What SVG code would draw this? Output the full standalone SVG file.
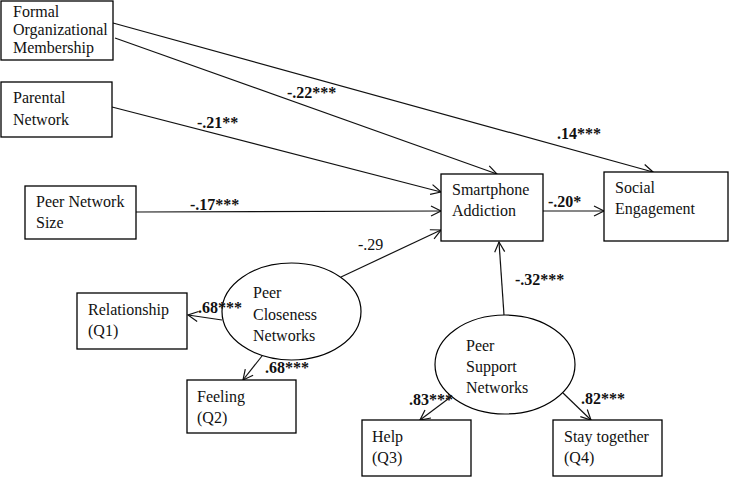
<svg xmlns="http://www.w3.org/2000/svg" width="730" height="478" viewBox="0 0 730 478">
<style>
  .box { fill: #fff; stroke: #000; stroke-width: 1.3; }
  .ell { fill: #fff; stroke: #000; stroke-width: 1.2; }
  .t { font-family: "Liberation Serif", "Times New Roman", serif; font-size: 16px; fill: #111; }
  .lb { font-family: "Liberation Serif", "Times New Roman", serif; font-size: 16px; font-weight: bold; fill: #111; }
  .ln { font-family: "Liberation Serif", "Times New Roman", serif; font-size: 16px; fill: #111; }
  .c { fill: none; stroke: #111; stroke-width: 1.2; marker-end: url(#arr); }
</style>
<defs>
  <marker id="arr" markerUnits="userSpaceOnUse" markerWidth="14" markerHeight="14" refX="11" refY="6" orient="auto">
    <path d="M1,1 L11,6 L1,11" fill="none" stroke="#111" stroke-width="1.2"/>
  </marker>
</defs>
<rect width="730" height="478" fill="#fff"/>

<g id="connectors">
  <line class="c" x1="113" y1="23" x2="653" y2="172"/>
  <line class="c" x1="115" y1="38" x2="497" y2="174"/>
  <line class="c" x1="112" y1="107" x2="441" y2="192"/>
  <line class="c" x1="136" y1="212" x2="441" y2="211"/>
  <line class="c" x1="341" y1="277" x2="441" y2="230"/>
  <line class="c" x1="543" y1="211" x2="604" y2="211"/>
  <line class="c" x1="504" y1="315" x2="499" y2="242"/>
  <line class="c" x1="222" y1="320" x2="188" y2="315"/>
  <line class="c" x1="262" y1="356" x2="243" y2="380"/>
  <line class="c" x1="452" y1="396" x2="420" y2="420"/>
  <line class="c" x1="563" y1="393" x2="591" y2="420"/>
</g>

<g id="formal">
  <rect class="box" x="1" y="1" width="112" height="59"/>
  <text class="t" x="13" y="17">Formal</text>
  <text class="t" x="13" y="35">Organizational</text>
  <text class="t" x="13" y="53">Membership</text>
</g>
<g id="parental">
  <rect class="box" x="1" y="82" width="111" height="55"/>
  <text class="t" x="13" y="103">Parental</text>
  <text class="t" x="13" y="125">Network</text>
</g>
<g id="peersize">
  <rect class="box" x="25" y="186" width="111" height="53"/>
  <text class="t" x="36" y="207">Peer Network</text>
  <text class="t" x="36" y="228">Size</text>
</g>
<g id="smartphone">
  <rect class="box" x="441" y="174" width="102" height="67"/>
  <text class="t" x="452" y="195">Smartphone</text>
  <text class="t" x="452" y="216">Addiction</text>
</g>
<g id="social">
  <rect class="box" x="604" y="172" width="124" height="69"/>
  <text class="t" x="615" y="193">Social</text>
  <text class="t" x="615" y="214">Engagement</text>
</g>
<g id="closeness">
  <ellipse class="ell" cx="291.5" cy="311.5" rx="69.5" ry="48.5"/>
  <text class="t" x="253" y="298">Peer</text>
  <text class="t" x="253" y="320">Closeness</text>
  <text class="t" x="253" y="341">Networks</text>
</g>
<g id="relationship">
  <rect class="box" x="77" y="293" width="110" height="56"/>
  <text class="t" x="88" y="315">Relationship</text>
  <text class="t" x="88" y="336">(Q1)</text>
</g>
<g id="feeling">
  <rect class="box" x="187" y="380" width="109" height="53"/>
  <text class="t" x="197" y="402">Feeling</text>
  <text class="t" x="197" y="423">(Q2)</text>
</g>
<g id="support">
  <ellipse class="ell" cx="505" cy="364.5" rx="70" ry="49.5"/>
  <text class="t" x="466" y="351">Peer</text>
  <text class="t" x="466" y="372">Support</text>
  <text class="t" x="466" y="393">Networks</text>
</g>
<g id="help">
  <rect class="box" x="362" y="420" width="109" height="56"/>
  <text class="t" x="372" y="442">Help</text>
  <text class="t" x="372" y="463">(Q3)</text>
</g>
<g id="stay">
  <rect class="box" x="553" y="420" width="109" height="56"/>
  <text class="t" x="564" y="442">Stay together</text>
  <text class="t" x="564" y="463">(Q4)</text>
</g>

<g id="connector-labels">
  <text class="lb" x="287" y="98">-.22***</text>
  <text class="lb" x="197" y="128">-.21**</text>
  <text class="lb" x="557" y="139">.14***</text>
  <text class="lb" x="190" y="210">-.17***</text>
  <text class="ln" x="358" y="250">-.29</text>
  <text class="lb" x="548" y="207">-.20*</text>
  <text class="lb" x="515" y="285">-.32***</text>
  <text class="lb" x="198" y="313">.68***</text>
  <text class="lb" x="265" y="373">.68***</text>
  <text class="lb" x="409" y="405">.83***</text>
  <text class="lb" x="581" y="404">.82***</text>
</g>
</svg>
